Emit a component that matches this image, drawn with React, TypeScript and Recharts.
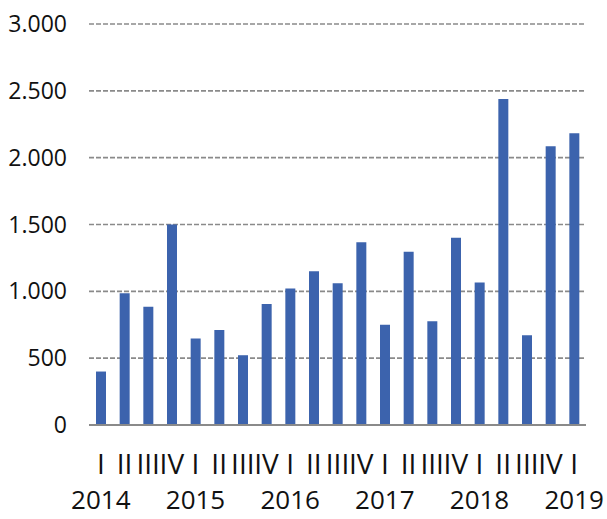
import { BarChart, Bar, XAxis, YAxis, CartesianGrid } from "recharts";

// ─── Data ─────────────────────────────────────────────────

const YEARS = ["2014", "2014", "2014", "2014", "2015", "2015", "2015", "2015", "2016", "2016", "2016", "2016", "2017", "2017", "2017", "2017", "2018", "2018", "2018", "2018", "2019"];
const QUARTERS = ["I", "II", "III", "IV", "I", "II", "III", "IV", "I", "II", "III", "IV", "I", "II", "III", "IV", "I", "II", "III", "IV", "I"];
const VALUES = [400, 985, 885, 1500, 648, 710, 522, 905, 1022, 1150, 1060, 1368, 750, 1296, 777, 1400, 1066, 2438, 672, 2086, 2182];
const Y_TICKS = [0, 500, 1000, 1500, 2000, 2500, 3000];

const data = VALUES.map((v, i) => ({
  key: `${YEARS[i]}-${QUARTERS[i]}`,
  year: YEARS[i],
  quarter: QUARTERS[i],
  value: v,
}));

const FONT = "'Open Sans', sans-serif";
const TEXT = "#111";

// 千の区切りは「.」
const fmt = (v: number) => v.toLocaleString("de-DE");

interface TickProps {
  x?: number;
  y?: number;
  index?: number;
}

// 四半期（ローマ数字）と、I の下に年を描く
function QuarterTick({ x, y, index }: TickProps) {
  if (x === undefined || y === undefined || index === undefined) return <g />;
  const d = data[index];
  return (
    <g>
      <text x={x} y={y + 47} textAnchor="middle" fontSize={28} fontFamily={FONT} fill={TEXT}>
        {d.quarter}
      </text>
      {d.quarter === "I" && (
        <text x={x} y={y + 82} textAnchor="middle" fontSize={26} fontFamily={FONT} fill={TEXT}>
          {d.year}
        </text>
      )}
    </g>
  );
}

export default function App() {
  return (
    <div style={{ position: "absolute", left: 0, top: 0, width: 607, height: 519, background: "#fff" }}>
      <BarChart
        width={607}
        height={519}
        data={data}
        margin={{ top: 24, right: 21, left: 0, bottom: 0 }}
        barCategoryGap={0}
        style={{ overflow: "visible" }}
      >
        <CartesianGrid vertical={false} stroke="#8a8a8a" strokeWidth={1.6} strokeDasharray="5 2" />
        <XAxis
          dataKey="key"
          interval={0}
          height={94}
          tickLine={false}
          tickSize={0}
          axisLine={{ stroke: "#8a8a8a", strokeWidth: 2 }}
          tick={(props: TickProps) => <QuarterTick {...props} />}
        />
        <YAxis
          width={89}
          domain={[0, 3000]}
          ticks={Y_TICKS}
          tickFormatter={fmt}
          axisLine={false}
          tickLine={false}
          tickSize={0}
          tickMargin={22}
          tick={{ fontSize: 23, fontFamily: FONT, fill: TEXT }}
        />
        <Bar dataKey="value" fill="#3c63ad" barSize={10} isAnimationActive={false} />
      </BarChart>
    </div>
  );
}
